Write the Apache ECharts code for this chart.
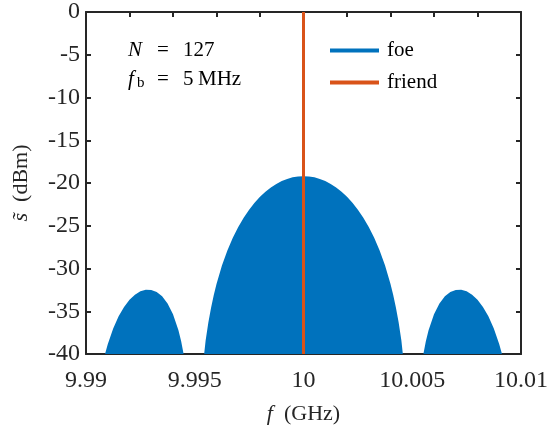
<!DOCTYPE html>
<html>
<head>
<meta charset="utf-8">
<script src="https://cdn.jsdelivr.net/npm/echarts@6/dist/echarts.min.js"></script>
<style>
html,body{margin:0;padding:0;background:#fff;}
#chart{width:557px;height:430px;}
</style>
</head>
<body>
<div id="chart"></div>
<script>
// foe spectrum envelope (GHz, dBm)
var foeFreq = [
  9.990875, 9.991, 9.99125, 9.9915, 9.99175, 9.992, 9.99225, 9.9925, 9.99275, 9.993,
  9.99325, 9.9935, 9.99375, 9.994, 9.99425, 9.994375, 9.9944875,
  9.9954325, 9.9955, 9.995625, 9.99575, 9.995875, 9.996, 9.99625, 9.9965, 9.99675,
  9.997, 9.99725, 9.9975, 9.99775, 9.998, 9.99825, 9.9985, 9.99875, 9.999, 9.99925,
  9.9995, 9.99975, 10,
  10.00025, 10.0005, 10.00075, 10.001, 10.00125, 10.0015, 10.00175, 10.002, 10.00225,
  10.0025, 10.00275, 10.003, 10.00325, 10.0035, 10.00375, 10.004, 10.004125, 10.00425,
  10.004375, 10.0045, 10.0045675,
  10.0055125, 10.005625, 10.00575, 10.006, 10.00625, 10.0065, 10.00675, 10.007, 10.00725,
  10.0075, 10.00775, 10.008, 10.00825, 10.0085, 10.00875, 10.009, 10.009125
];
var foeLevel = [
  -40, -38.86, -37.01, -35.59, -34.50, -33.66, -33.06, -32.66, -32.48, -32.50,
  -32.75, -33.26, -34.09, -35.34, -37.22, -38.51, -40,
  -40, -38.43, -36.33, -34.59, -33.11, -31.82, -29.65, -27.89, -26.40,
  -25.14, -24.06, -23.12, -22.32, -21.62, -21.03, -20.53, -20.11, -19.78, -19.52,
  -19.34, -19.24, -19.2,
  -19.24, -19.34, -19.52, -19.78, -20.11, -20.53, -21.03, -21.62, -22.32,
  -23.12, -24.06, -25.14, -26.40, -27.89, -29.65, -31.82, -33.11, -34.59,
  -36.33, -38.43, -40,
  -40, -38.51, -37.22, -35.34, -34.09, -33.26, -32.75, -32.50, -32.48,
  -32.66, -33.06, -33.66, -34.50, -35.59, -37.01, -38.86, -40
];
// friend: single carrier line
var friendFreq = [10, 10];
var friendLevel = [-40, 0];

var seriesNames = ['foe', 'friend'];
var annotationN = 'N';
var annotationNValue = '127';
var annotationFbValue = '5';
var annotationFbUnit = 'MHz';

var FONT = 'Liberation Serif';
var AX = '#262626';

function zip(a, b) { return a.map(function (v, i) { return [v, b[i]]; }); }
function fmtX(v) { return String(Number(v.toFixed(4))); }

var chart = echarts.init(document.getElementById('chart'), null, {renderer: 'canvas'});
var common = {min: 9.99, max: 10.01, type: 'value', splitLine: {show: false}};
chart.setOption({
  animation: false,
  backgroundColor: '#fff',
  textStyle: {fontFamily: FONT},
  grid: {left: 86, right: 36, top: 10, bottom: 76, containLabel: false},
  xAxis: [
    Object.assign({}, common, {
      position: 'bottom', interval: 0.002,
      axisLine: {show: true, onZero: false, lineStyle: {color: AX, width: 2}},
      axisTick: {show: true, inside: true, length: 5, lineStyle: {color: AX, width: 2}},
      axisLabel: {show: false},
      name: '{i|f}  (GHz)', nameLocation: 'middle', nameGap: 49,
      nameTextStyle: {fontFamily: FONT, fontSize: 22, color: AX,
        rich: {i: {fontFamily: FONT, fontSize: 22, fontStyle: 'italic', color: AX}}}
    }),
    Object.assign({}, common, {
      position: 'bottom', interval: 0.005,
      axisLine: {show: false, onZero: false},
      axisTick: {show: false},
      axisLabel: {show: true, margin: 15, fontFamily: FONT, fontSize: 24, color: AX,
        formatter: fmtX, showMinLabel: true, showMaxLabel: true}
    }),
    Object.assign({}, common, {
      position: 'top', interval: 0.002,
      axisLine: {show: true, onZero: false, lineStyle: {color: AX, width: 2}},
      axisTick: {show: true, inside: true, length: 5, lineStyle: {color: AX, width: 2}},
      axisLabel: {show: false}
    })
  ],
  yAxis: [
    {
      type: 'value', min: -40, max: 0, interval: 5, position: 'left',
      splitLine: {show: false},
      axisLine: {show: true, onZero: false, lineStyle: {color: AX, width: 2}},
      axisTick: {show: true, inside: true, length: 5, lineStyle: {color: AX, width: 2}},
      axisLabel: {show: true, margin: 6, fontFamily: FONT, fontSize: 24, color: AX,
        formatter: function (v) { return String(v); }},
      name: '{i|s\u0303}  (dBm)', nameLocation: 'middle', nameGap: 54,
      nameTextStyle: {fontFamily: FONT, fontSize: 22, color: AX,
        rich: {i: {fontFamily: FONT, fontSize: 22, fontStyle: 'italic', color: AX}}}
    },
    {
      type: 'value', min: -40, max: 0, interval: 5, position: 'right',
      splitLine: {show: false},
      axisLine: {show: true, onZero: false, lineStyle: {color: AX, width: 2}},
      axisTick: {show: true, inside: true, length: 5, lineStyle: {color: AX, width: 2}},
      axisLabel: {show: false}
    }
  ],
  legend: {
    orient: 'vertical', left: 330, top: 40, padding: 0,
    itemWidth: 49, itemHeight: 4, itemGap: 11,
    icon: 'rect', data: seriesNames,
    textStyle: {fontFamily: FONT, fontSize: 21, color: '#000', padding: [0, 0, 0, 3]}
  },
  graphic: [
    {type: 'text', left: 128, top: 40, z: 10,
      style: {text: '{n|' + annotationN + '}{e|=}' + annotationNValue, fill: '#000',
        fontFamily: FONT, fontSize: 21,
        rich: {
          n: {fontFamily: FONT, fontSize: 21, fontStyle: 'italic', fill: '#000', width: 29},
          e: {fontFamily: FONT, fontSize: 21, fill: '#000', width: 26}
        }}},
    {type: 'text', left: 128, top: 69, z: 10,
      style: {text: '{f|f}{b|b}{e|=}{d|' + annotationFbValue + '}' + annotationFbUnit, fill: '#000',
        fontFamily: FONT, fontSize: 21,
        rich: {
          f: {fontFamily: FONT, fontSize: 21, fontStyle: 'italic', fill: '#000', width: 9},
          b: {fontFamily: FONT, fontSize: 15, fill: '#000', width: 20, padding: [8, 0, 0, 0]},
          e: {fontFamily: FONT, fontSize: 21, fill: '#000', width: 26},
          d: {fontFamily: FONT, fontSize: 21, fill: '#000', width: 15}
        }}}
  ],
  series: [
    {
      name: seriesNames[0], type: 'line', xAxisIndex: 0, yAxisIndex: 0,
      data: zip(foeFreq, foeLevel), showSymbol: false, symbol: 'none',
      color: '#0072BD',
      lineStyle: {width: 0, color: '#0072BD'},
      areaStyle: {color: '#0072BD', opacity: 1, origin: 'start'},
      z: 2
    },
    {
      name: seriesNames[1], type: 'line', xAxisIndex: 0, yAxisIndex: 0,
      data: zip(friendFreq, friendLevel), showSymbol: false, symbol: 'none',
      color: '#D95319',
      lineStyle: {width: 3, color: '#D95319'},
      z: 3
    }
  ]
});
</script>
</body>
</html>
